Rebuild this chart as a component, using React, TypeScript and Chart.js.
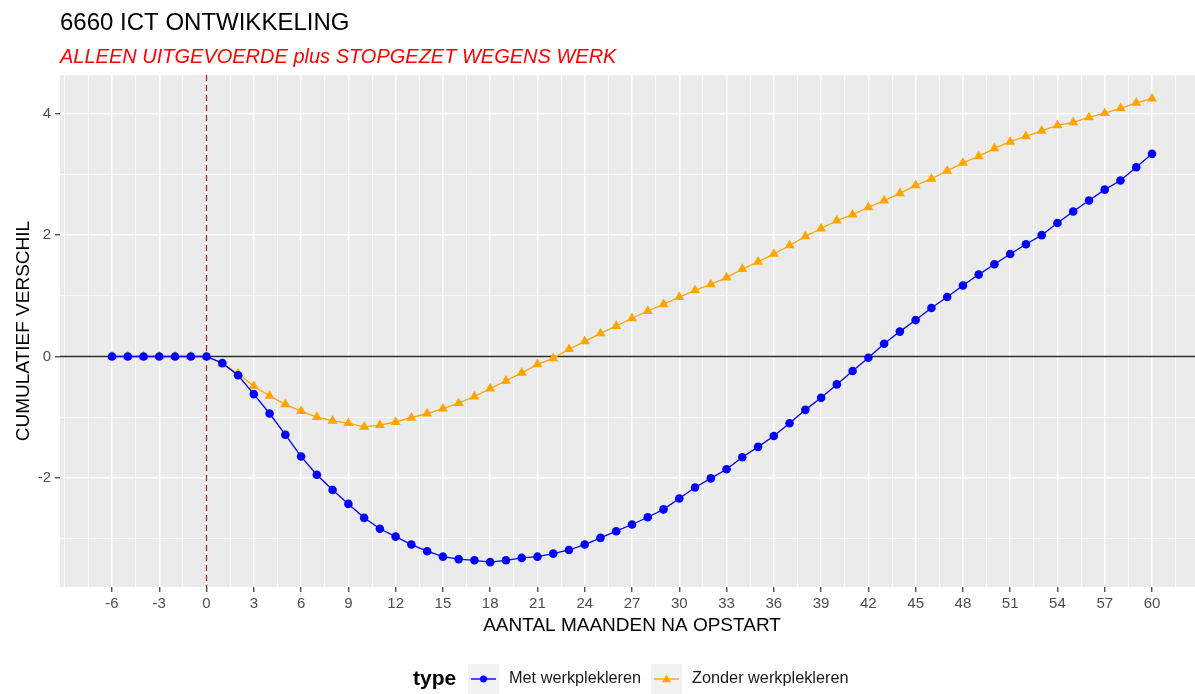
import React, { useEffect, useRef } from "react";
import { Chart, registerables } from "chart.js";

Chart.register(...registerables);

const FONT = '"Liberation Sans", Arial, sans-serif';

const chartTitle = "6660 ICT ONTWIKKELING";
const chartSubtitle = "ALLEEN UITGEVOERDE plus STOPGEZET WEGENS WERK";
const xAxisTitle = "AANTAL MAANDEN NA OPSTART";
const yAxisTitle = "CUMULATIEF VERSCHIL";
const legendTitle = "type";
const seriesNames = ["Met werkplekleren", "Zonder werkplekleren"];

const months = [
  -6, -5, -4, -3, -2, -1, 0, 1, 2, 3, 4, 5, 6, 7, 8, 9, 10, 11, 12, 13, 14, 15, 16, 17, 18, 19, 20,
  21, 22, 23, 24, 25, 26, 27, 28, 29, 30, 31, 32, 33, 34, 35, 36, 37, 38, 39, 40, 41, 42, 43, 44, 45,
  46, 47, 48, 49, 50, 51, 52, 53, 54, 55, 56, 57, 58, 59, 60,
];

const metWerkplekleren = [
  0, 0, 0, 0, 0, 0, 0, -0.11, -0.31, -0.62, -0.94, -1.29, -1.65, -1.95, -2.2, -2.43, -2.66, -2.84,
  -2.97, -3.1, -3.21, -3.3, -3.34, -3.36, -3.39, -3.36, -3.32, -3.3, -3.25, -3.19, -3.1, -2.99, -2.88,
  -2.77, -2.65, -2.52, -2.34, -2.16, -2.01, -1.86, -1.66, -1.49, -1.31, -1.1, -0.88, -0.68, -0.46,
  -0.24, -0.02, 0.21, 0.41, 0.6, 0.8, 0.98, 1.17, 1.35, 1.52, 1.69, 1.85, 2.0, 2.2, 2.39, 2.57, 2.75,
  2.9, 3.12, 3.34,
];

const zonderWerkplekleren = [
  0, 0, 0, 0, 0, 0, 0, -0.12, -0.28, -0.49, -0.65, -0.79, -0.9, -1.0, -1.06, -1.1, -1.16, -1.13,
  -1.08, -1.01, -0.94, -0.86, -0.77, -0.66, -0.53, -0.4, -0.27, -0.13, -0.03, 0.12, 0.25, 0.38, 0.5,
  0.63, 0.75, 0.86, 0.98, 1.09, 1.19, 1.3, 1.44, 1.56, 1.69, 1.83, 1.98, 2.11, 2.24, 2.34, 2.46, 2.57,
  2.69, 2.82, 2.93, 3.06, 3.19, 3.3, 3.43, 3.54, 3.63, 3.72, 3.81, 3.86, 3.94, 4.01, 4.09, 4.18, 4.25,
];

const xTickLabels = [-6, -3, 0, 3, 6, 9, 12, 15, 18, 21, 24, 27, 30, 33, 36, 39, 42, 45, 48, 51, 54, 57, 60];
const yTickLabels = [-2, 0, 2, 4];
const xLimits = [-9.3, 63.3];
const yLimits = [-3.8, 4.64];

// grid positions: majors at labelled ticks, minors half-way (plus one step beyond)
const xGridValues: number[] = [];
for (let v = xTickLabels[0] - 3; v <= xTickLabels[xTickLabels.length - 1] + 3; v += 1.5) {
  if (v >= xLimits[0] && v <= xLimits[1]) xGridValues.push(v);
}
const yGridValues: number[] = [];
for (let v = yTickLabels[0] - 2; v <= yTickLabels[yTickLabels.length - 1] + 2; v += 1) {
  if (v >= yLimits[0] && v <= yLimits[1]) yGridValues.push(v);
}
const isXMajor = (v: number) => xTickLabels.includes(v);
const isYMajor = (v: number) => yTickLabels.includes(v);

const BLUE = "#0000FF";
const ORANGE = "#FFA500";

const decorPlugin = {
  id: "ggDecor",
  beforeDraw(chart: any) {
    const { ctx, chartArea } = chart;
    ctx.save();
    ctx.fillStyle = "#EBEBEB";
    ctx.fillRect(chartArea.left, chartArea.top, chartArea.right - chartArea.left, chartArea.bottom - chartArea.top);
    ctx.restore();
  },
  beforeDatasetsDraw(chart: any) {
    const { ctx, chartArea, scales } = chart;
    ctx.save();
    const y0 = scales.y.getPixelForValue(0);
    ctx.strokeStyle = "#2B2B2B";
    ctx.lineWidth = 1.7;
    ctx.beginPath();
    ctx.moveTo(chartArea.left, y0);
    ctx.lineTo(chartArea.right, y0);
    ctx.stroke();
    const x0 = scales.x.getPixelForValue(0);
    ctx.strokeStyle = "#B22222";
    ctx.lineWidth = 1.3;
    ctx.setLineDash([6, 4]);
    ctx.beginPath();
    ctx.moveTo(x0, chartArea.top);
    ctx.lineTo(x0, chartArea.bottom);
    ctx.stroke();
    ctx.restore();
  },
  afterDraw(chart: any) {
    const { ctx, chartArea } = chart;
    ctx.save();
    ctx.textBaseline = "middle";
    ctx.textAlign = "left";
    ctx.fillStyle = "#000000";
    ctx.font = `24px ${FONT}`;
    ctx.fillText(chartTitle, chartArea.left, 23);
    ctx.fillStyle = "#FF0000";
    ctx.font = `italic 20px ${FONT}`;
    ctx.fillText(chartSubtitle, chartArea.left, 57);

    // legend
    const ly = 679;
    ctx.fillStyle = "#000000";
    ctx.font = `bold 21px ${FONT}`;
    ctx.fillText(legendTitle, 413, ly);
    const keys = [
      { x: 468, color: BLUE, style: "circle", labelX: 509 },
      { x: 651, color: ORANGE, style: "triangle", labelX: 692 },
    ];
    keys.forEach((k, i) => {
      ctx.fillStyle = "#F2F2F2";
      ctx.fillRect(k.x, ly - 15, 31, 30);
      ctx.strokeStyle = k.color;
      ctx.lineWidth = 1.4;
      ctx.beginPath();
      ctx.moveTo(k.x + 3, ly);
      ctx.lineTo(k.x + 28, ly);
      ctx.stroke();
      ctx.fillStyle = k.color;
      ctx.beginPath();
      if (k.style === "circle") {
        ctx.arc(k.x + 15.5, ly, 3.5, 0, Math.PI * 2);
      } else {
        ctx.moveTo(k.x + 15.5, ly - 4.5);
        ctx.lineTo(k.x + 20, ly + 3.2);
        ctx.lineTo(k.x + 11, ly + 3.2);
        ctx.closePath();
      }
      ctx.fill();
      ctx.fillStyle = "#1A1A1A";
      ctx.font = `16.3px ${FONT}`;
      ctx.fillText(seriesNames[i], k.labelX, ly);
    });
    ctx.restore();
  },
};

export default function App() {
  const canvasRef = useRef<HTMLCanvasElement | null>(null);

  useEffect(() => {
    document.body.style.margin = "0";
    const canvas = canvasRef.current;
    if (!canvas) return;
    const chart = new Chart(canvas, {
      type: "line",
      data: {
        datasets: [
          {
            label: seriesNames[0],
            data: months.map((m, i) => ({ x: m, y: metWerkplekleren[i] })),
            borderColor: BLUE,
            backgroundColor: BLUE,
            borderWidth: 1.3,
            pointStyle: "circle",
            pointRadius: 4.3,
            pointBorderWidth: 0,
            tension: 0,
          },
          {
            label: seriesNames[1],
            data: months.map((m, i) => ({ x: m, y: zonderWerkplekleren[i] })),
            borderColor: ORANGE,
            backgroundColor: ORANGE,
            borderWidth: 1.3,
            pointStyle: "triangle",
            pointRadius: 5.8,
            pointBorderWidth: 0,
            tension: 0,
          },
        ],
      },
      options: {
        responsive: false,
        animation: false,
        devicePixelRatio: 1,
        layout: { padding: { top: 75, right: 6, bottom: 49, left: 0 } },
        plugins: {
          legend: { display: false },
          title: { display: false },
          tooltip: { enabled: false },
        },
        font: { family: FONT },
        scales: {
          x: {
            type: "linear",
            min: xLimits[0],
            max: xLimits[1],
            afterBuildTicks: (s: any) => {
              s.ticks = xGridValues.map((v) => ({ value: v }));
            },
            afterFit: (s: any) => {
              s.height = 58;
            },
            ticks: {
              autoSkip: false,
              maxRotation: 0,
              minRotation: 0,
              padding: 3,
              color: "#4D4D4D",
              font: { family: FONT, size: 15 },
              callback: (v: any) => (isXMajor(Number(v)) ? String(v) : ""),
            },
            grid: {
              color: "#FFFFFF",
              lineWidth: (c: any) => (c.tick && isXMajor(c.tick.value) ? 1.5 : 0.75),
              tickLength: 5,
              tickWidth: 1.2,
              tickColor: (c: any) => (c.tick && isXMajor(c.tick.value) ? "#333333" : "rgba(0,0,0,0)"),
              drawTicks: true,
            },
            border: { display: false },
            title: {
              display: true,
              text: xAxisTitle,
              color: "#000000",
              font: { family: FONT, size: 19 },
              padding: { top: 0, bottom: 8 },
            },
          },
          y: {
            type: "linear",
            min: yLimits[0],
            max: yLimits[1],
            afterBuildTicks: (s: any) => {
              s.ticks = yGridValues.map((v) => ({ value: v }));
            },
            afterFit: (s: any) => {
              s.width = 60;
            },
            ticks: {
              autoSkip: false,
              padding: 4,
              color: "#4D4D4D",
              font: { family: FONT, size: 15 },
              callback: (v: any) => (isYMajor(Number(v)) ? String(v) : ""),
            },
            grid: {
              color: "#FFFFFF",
              lineWidth: (c: any) => (c.tick && isYMajor(c.tick.value) ? 1.5 : 0.75),
              tickLength: 5,
              tickWidth: 1.2,
              tickColor: (c: any) => (c.tick && isYMajor(c.tick.value) ? "#333333" : "rgba(0,0,0,0)"),
              drawTicks: true,
            },
            border: { display: false },
            title: {
              display: true,
              text: yAxisTitle,
              color: "#000000",
              font: { family: FONT, size: 19 },
              padding: { top: 12, bottom: 0 },
            },
          },
        },
      } as any,
      plugins: [decorPlugin],
    });
    return () => chart.destroy();
  }, []);

  return (
    <div style={{ width: 1195, height: 694, overflow: "hidden", background: "#FFFFFF" }}>
      <canvas ref={canvasRef} width={1210} height={694} style={{ display: "block" }} />
    </div>
  );
}
